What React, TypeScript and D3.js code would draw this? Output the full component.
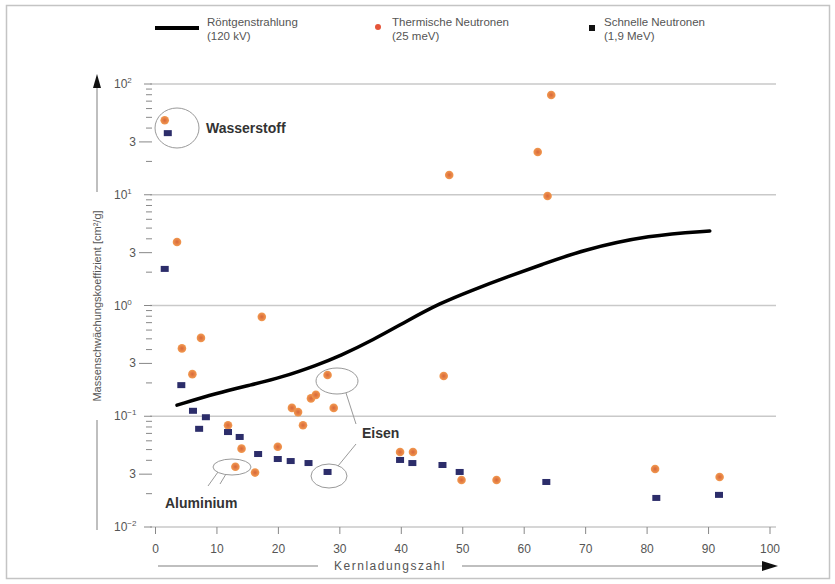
import { useEffect, useRef } from 'react';
import * as d3 from 'd3';

const W = 835;
const H = 584;

// Thermische Neutronen (25 meV)
const thermalZ = [1.5, 3.5, 4.3, 6, 7.4, 11.8, 13, 14, 16.2, 17.3, 19.9, 22.2, 23.2, 24, 25.3, 26.1, 28, 29, 39.8, 41.9, 46.9, 47.8, 49.8, 55.5, 62.2, 63.8, 64.4, 81.3, 91.8];
const thermalMu = [47, 3.75, 0.41, 0.24, 0.51, 0.083, 0.035, 0.051, 0.031, 0.79, 0.053, 0.119, 0.109, 0.083, 0.145, 0.156, 0.236, 0.119, 0.0475, 0.0475, 0.231, 15.1, 0.0266, 0.0266, 24.3, 9.75, 79.6, 0.0334, 0.0283];

// Schnelle Neutronen (1,9 MeV)
const fastZ = [2, 1.5, 4.2, 6.1, 8.2, 7.1, 11.8, 13.7, 16.7, 19.9, 22, 24.9, 28, 39.8, 41.8, 46.7, 49.5, 63.6, 81.5, 91.7];
const fastMu = [36, 2.14, 0.191, 0.112, 0.098, 0.077, 0.072, 0.065, 0.0456, 0.0411, 0.0394, 0.0378, 0.0314, 0.0403, 0.0378, 0.0363, 0.0314, 0.0255, 0.0183, 0.0195];

// Röntgenstrahlung (120 kV)
const xrayZ = [3.5, 10, 15.4, 20.7, 26.3, 30, 35.4, 40.9, 46.3, 51.6, 57.2, 62.7, 69.5, 80.4, 90.2];
const xrayMu = [0.126, 0.162, 0.191, 0.226, 0.29, 0.35, 0.488, 0.724, 1.05, 1.38, 1.81, 2.32, 3.17, 4.33, 4.71];

const xTicks = [0, 10, 20, 30, 40, 50, 60, 70, 80, 90, 100];
const yExponents = [-2, -1, 0, 1, 2];
const expLabels = ['\u22122', '\u22121', '0', '1', '2'];

const NAVY = '#2c2d6a';
const GREY = '#555';

function App() {
  const svgRef = useRef(null);

  useEffect(() => {
    const svg = d3.select(svgRef.current);
    svg.selectAll('*').remove();

    const x = d3.scaleLinear().domain([0, 100]).range([155.5, 770]);
    const y = d3.scaleLog().domain([0.01, 100]).range([527, 84]);
    const font = 'Liberation Sans, Arial, sans-serif';

    const grad = svg.append('defs').append('radialGradient').attr('id', 'dot');
    grad.append('stop').attr('offset', '0%').attr('stop-color', '#d8673a');
    grad.append('stop').attr('offset', '100%').attr('stop-color', '#f29a50');

    svg.append('rect').attr('x', 6.5).attr('y', 5.5).attr('width', 823).attr('height', 573)
      .attr('fill', '#fff').attr('stroke', '#c4c4c4').attr('stroke-width', 1.5);

    // gridlines at decades
    svg.append('g').selectAll('line').data(yExponents).join('line')
      .attr('x1', 150).attr('x2', 776)
      .attr('y1', d => y(Math.pow(10, d))).attr('y2', d => y(Math.pow(10, d)))
      .attr('stroke', '#c9c9c9').attr('stroke-width', 1.5);

    // minor ticks
    const minor = [];
    yExponents.slice(0, 4).forEach(e => {
      for (let m = 2; m <= 9; m++) minor.push({ v: m * Math.pow(10, e), m });
    });
    svg.append('g').selectAll('line').data(minor).join('line')
      .attr('x1', d => (d.m === 3 ? 139 : 146)).attr('x2', 152)
      .attr('y1', d => y(d.v)).attr('y2', d => y(d.v))
      .attr('stroke', '#888').attr('stroke-width', 1);
    svg.append('g').selectAll('line').data(yExponents).join('line')
      .attr('x1', 144).attr('x2', 152)
      .attr('y1', d => y(Math.pow(10, d))).attr('y2', d => y(Math.pow(10, d)))
      .attr('stroke', '#888').attr('stroke-width', 1);

    // y tick labels
    const yl = svg.append('g').attr('font-family', font).attr('fill', GREY);
    yExponents.forEach((e, i) => {
      const t = yl.append('text').attr('x', 114).attr('y', y(Math.pow(10, e)) + 4)
        .attr('font-size', 12);
      t.append('tspan').text('10');
      t.append('tspan').attr('dy', -5).attr('font-size', 8).text(expLabels[i]);
    });
    yl.selectAll('.three').data(yExponents.slice(0, 4)).join('text')
      .attr('class', 'three')
      .attr('x', 136).attr('y', d => y(3 * Math.pow(10, d)) + 4)
      .attr('text-anchor', 'end').attr('font-size', 12).text('3');

    // x ticks
    svg.append('g').selectAll('line').data(xTicks).join('line')
      .attr('x1', d => x(d)).attr('x2', d => x(d))
      .attr('y1', 527).attr('y2', 534)
      .attr('stroke', '#888').attr('stroke-width', 1);
    svg.append('g').selectAll('text').data(xTicks).join('text')
      .attr('x', d => x(d)).attr('y', 553)
      .attr('text-anchor', 'middle').attr('font-family', font)
      .attr('font-size', 12).attr('fill', GREY).text(d => d);

    // x axis title with arrow
    svg.append('line').attr('x1', 158).attr('x2', 318).attr('y1', 566).attr('y2', 566)
      .attr('stroke', '#aaa').attr('stroke-width', 1.5);
    svg.append('line').attr('x1', 462).attr('x2', 764).attr('y1', 566).attr('y2', 566)
      .attr('stroke', '#aaa').attr('stroke-width', 1.5);
    svg.append('path').attr('d', 'M762,561 L778,566 L762,571 Z').attr('fill', '#111');
    svg.append('text').attr('x', 390).attr('y', 570).attr('text-anchor', 'middle')
      .attr('font-family', font).attr('font-size', 12).attr('letter-spacing', 1.5)
      .attr('fill', GREY).text('Kernladungszahl');

    // y axis title with arrow
    const ax = 97;
    svg.append('line').attr('x1', ax).attr('x2', ax).attr('y1', 530).attr('y2', 420)
      .attr('stroke', '#aaa').attr('stroke-width', 1.5);
    svg.append('line').attr('x1', ax).attr('x2', ax).attr('y1', 192).attr('y2', 86)
      .attr('stroke', '#aaa').attr('stroke-width', 1.5);
    svg.append('path').attr('d', `M${ax - 4},88 L${ax},74 L${ax + 4},88 Z`).attr('fill', '#111');
    svg.append('text').attr('transform', `translate(${ax + 4},306) rotate(-90)`)
      .attr('text-anchor', 'middle').attr('font-family', font).attr('font-size', 11)
      .attr('fill', GREY).text('Massenschwächungskoeffizient [cm²/g]');

    // annotations
    const ann = svg.append('g').attr('fill', 'none').attr('stroke', '#9a9a9a').attr('stroke-width', 1);
    ann.append('ellipse').attr('cx', 177).attr('cy', 128).attr('rx', 22).attr('ry', 20);
    ann.append('ellipse').attr('cx', 337).attr('cy', 381).attr('rx', 21).attr('ry', 13);
    ann.append('ellipse').attr('cx', 329).attr('cy', 476).attr('rx', 18).attr('ry', 12);
    ann.append('ellipse').attr('cx', 232).attr('cy', 467).attr('rx', 19).attr('ry', 8);
    ann.append('path').attr('d', 'M346,393 L356,424 M356,444 L338,466');
    ann.append('path').attr('d', 'M218,472 L208,486 M226,474 L220,484');

    const lab = svg.append('g').attr('font-family', font).attr('font-weight', 'bold')
      .attr('font-size', 14).attr('fill', '#333');
    lab.append('text').attr('x', 206).attr('y', 133).text('Wasserstoff');
    lab.append('text').attr('x', 362).attr('y', 438).text('Eisen');
    lab.append('text').attr('x', 165).attr('y', 508).text('Aluminium');

    // x-ray curve
    const line = d3.line().x(d => x(d[0])).y(d => y(d[1])).curve(d3.curveBasis);
    svg.append('path').attr('d', line(xrayZ.map((z, i) => [z, xrayMu[i]])))
      .attr('fill', 'none').attr('stroke', '#000').attr('stroke-width', 3.5)
      .attr('stroke-linecap', 'round');

    // thermal neutrons
    svg.append('g').selectAll('circle').data(thermalZ.map((z, i) => [z, thermalMu[i]])).join('circle')
      .attr('cx', d => x(d[0])).attr('cy', d => y(d[1])).attr('r', 4.3)
      .attr('fill', 'url(#dot)');

    // fast neutrons
    svg.append('g').selectAll('rect').data(fastZ.map((z, i) => [z, fastMu[i]])).join('rect')
      .attr('x', d => x(d[0]) - 4).attr('y', d => y(d[1]) - 3)
      .attr('width', 8).attr('height', 6).attr('fill', NAVY);

    // legend
    const lg = svg.append('g').attr('font-family', font).attr('font-size', 11.5).attr('fill', GREY);
    lg.append('line').attr('x1', 155).attr('x2', 199).attr('y1', 28).attr('y2', 28)
      .attr('stroke', '#000').attr('stroke-width', 4);
    lg.append('text').attr('x', 207).attr('y', 26).text('Röntgenstrahlung');
    lg.append('text').attr('x', 207).attr('y', 40).text('(120 kV)');
    lg.append('circle').attr('cx', 378).attr('cy', 27).attr('r', 3).attr('fill', '#e5553a');
    lg.append('text').attr('x', 392).attr('y', 26).text('Thermische Neutronen');
    lg.append('text').attr('x', 392).attr('y', 40).text('(25 meV)');
    lg.append('rect').attr('x', 589).attr('y', 25).attr('width', 6).attr('height', 6).attr('fill', '#111');
    lg.append('text').attr('x', 604).attr('y', 26).text('Schnelle Neutronen');
    lg.append('text').attr('x', 604).attr('y', 40).text('(1,9 MeV)');
  }, []);

  return (
    <svg ref={svgRef} width={W} height={H}
      style={{ position: 'absolute', left: 0, top: 0, background: '#fff' }} />
  );
}

export default App;
